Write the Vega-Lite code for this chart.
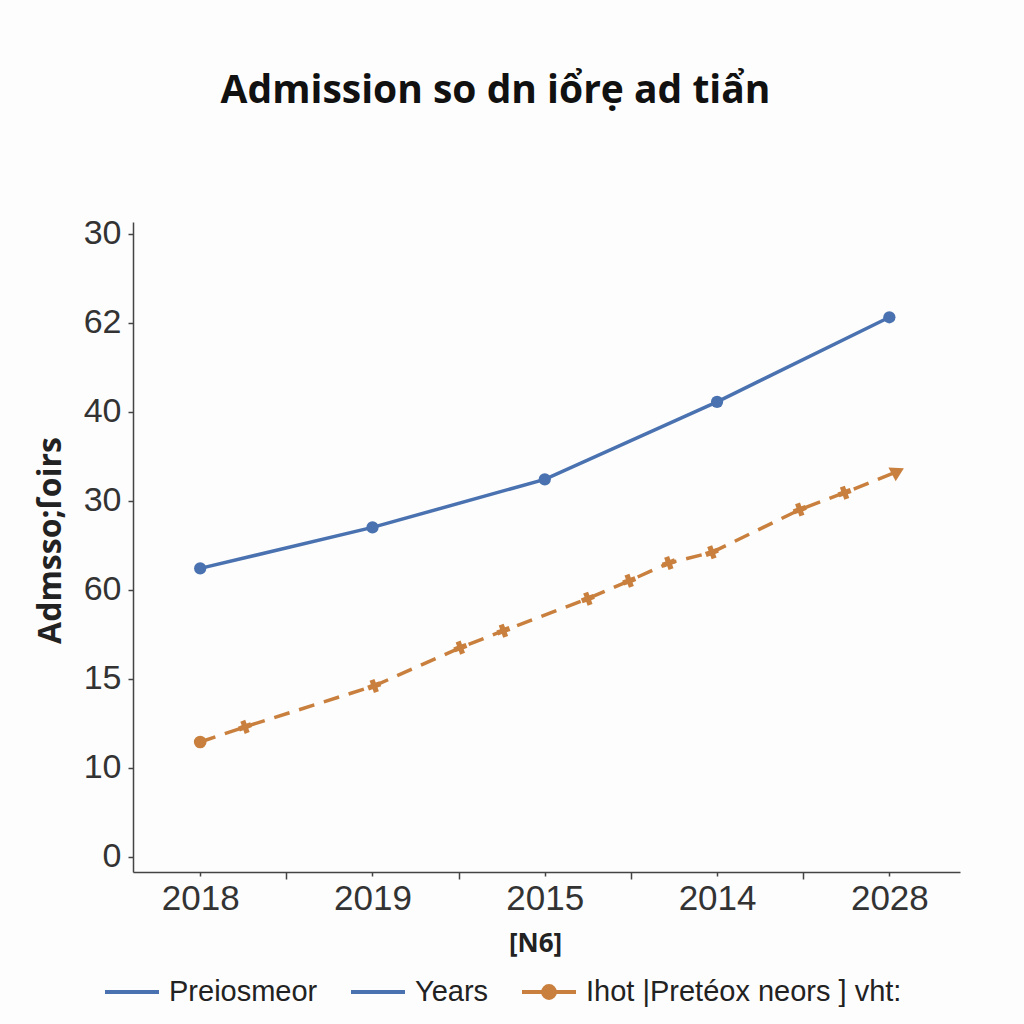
{
  "$schema": "https://vega.github.io/schema/vega-lite/v6.json",
  "width": 827,
  "height": 650,
  "autosize": {"type": "none"},
  "padding": {"left": 133, "top": 222, "right": 64, "bottom": 152},
  "background": "#fdfdfd",
  "title": {"text": "Admission so dn iổrẹ ad tiẩn", "fontSize": 39, "font": "Open Sans", "fontWeight": "bold", "color": "#111", "anchor": "middle", "dx": -51, "offset": 106},
  "config": {"view": {"stroke": null}},
  "datasets": {
    "blue": [
      {"i": 0, "v": 3.24},
      {"i": 1, "v": 3.70},
      {"i": 2, "v": 4.24},
      {"i": 3, "v": 5.11},
      {"i": 4, "v": 6.06}
    ],
    "orange": [
      {"i": 0, "v": 1.29, "kind": "start"},
      {"i": 0.26, "v": 1.46, "kind": "mid"},
      {"i": 1.01, "v": 1.92, "kind": "mid"},
      {"i": 1.51, "v": 2.35, "kind": "mid"},
      {"i": 1.76, "v": 2.54, "kind": "mid"},
      {"i": 2.25, "v": 2.90, "kind": "mid"},
      {"i": 2.49, "v": 3.10, "kind": "mid"},
      {"i": 2.72, "v": 3.30, "kind": "mid"},
      {"i": 2.97, "v": 3.42, "kind": "mid"},
      {"i": 3.48, "v": 3.90, "kind": "mid"},
      {"i": 3.74, "v": 4.09, "kind": "mid"},
      {"i": 4.05, "v": 4.33, "kind": "end"}
    ]
  },
  "layer": [
    {
      "data": {"name": "blue"},
      "mark": {"type": "line", "strokeWidth": 3.5},
      "encoding": {
        "x": {"field": "i", "type": "quantitative",
          "scale": {"domain": [-0.39, 4.41], "nice": false, "zero": false},
          "axis": {
            "values": [0, 0.5, 1, 1.5, 2, 2.5, 3, 3.5, 4],
            "labelExpr": "datum.value % 1 === 0 ? ['2018','2019','2015','2014','2028'][datum.value] : ''",
            "grid": false,
            "tickSize": {"condition": {"test": "datum.value % 1 === 0", "value": 4}, "value": 7},
            "labelFontSize": 35, "labelFont": "Liberation Sans", "labelColor": "#333",
            "labelPadding": 5, "labelFlush": false, "labelOverlap": false,
            "domainColor": "#444", "domainWidth": 1.5, "tickColor": "#444", "tickWidth": 1.5,
            "title": "[N6]", "titleFontSize": 26, "titleFontWeight": "bold", "titleFont": "Open Sans",
            "titleX": 402, "titleY": 58, "titleColor": "#222", "titleBaseline": "top"
          }
        },
        "y": {"field": "v", "type": "quantitative",
          "scale": {"domain": [-0.17, 7.13], "nice": false, "zero": false},
          "axis": {
            "values": [0, 1, 2, 3, 4, 5, 6, 7],
            "labelExpr": "['0','10','15','60','30','40','62','30'][datum.value]",
            "grid": false, "tickSize": 5, "labelPadding": 7,
            "labelFontSize": 34, "labelFont": "Liberation Sans", "labelColor": "#333",
            "domainColor": "#444", "domainWidth": 1.5, "tickColor": "#444", "tickWidth": 1.5,
            "title": "Admsso;ſoirs", "titleFontSize": 32, "titleFontWeight": "bold", "titleFont": "Open Sans",
            "titleColor": "#222", "titleX": -83, "titleY": 318, "titleAngle": -90,
            "titleBaseline": "middle", "titleAlign": "center"
          }
        },
        "color": {"datum": "Preiosmeor", "type": "nominal",
          "scale": {"domain": ["Preiosmeor", "Years", "Ihot |Pretéox neors ] vht:"], "range": ["#4a72b0", "#4a72b0", "#c9803e"]},
          "legend": {
            "orient": "none", "legendX": -30, "legendY": 741, "direction": "horizontal", "columns": 3,
            "title": null, "symbolType": "stroke", "symbolSize": 2916, "symbolStrokeWidth": 4,
            "labelFontSize": 29, "labelFont": "Liberation Sans", "labelColor": "#222", "labelLimit": 600,
            "columnPadding": 25, "labelOffset": 8,
            "encode": {"symbols": {"update": {
              "shape": {"signal": "datum.value === 'Ihot |Pretéox neors ] vht:' ? 'M-1,0H-0.22M0.22,0H1M0.22,0A0.22,0.22 0 1,1 -0.22,0A0.22,0.22 0 1,1 0.22,0' : 'stroke'"},
              "fill": {"signal": "datum.value === 'Ihot |Pretéox neors ] vht:' ? '#c9803e' : 'transparent'"}
            }}}
          }
        }
      }
    },
    {
      "data": {"name": "blue"},
      "mark": {"type": "point", "filled": true, "size": 150, "opacity": 1},
      "encoding": {
        "x": {"field": "i", "type": "quantitative"},
        "y": {"field": "v", "type": "quantitative"},
        "color": {"datum": "Preiosmeor", "type": "nominal"}
      }
    },
    {
      "data": {"name": "orange"},
      "mark": {"type": "line", "strokeWidth": 3.5, "strokeDash": [16, 10]},
      "encoding": {
        "x": {"field": "i", "type": "quantitative"},
        "y": {"field": "v", "type": "quantitative"},
        "color": {"datum": "Ihot |Pretéox neors ] vht:", "type": "nominal"}
      }
    },
    {
      "data": {"name": "orange"},
      "transform": [{"filter": "datum.kind === 'start'"}],
      "mark": {"type": "point", "filled": true, "size": 160, "opacity": 1, "shape": "circle"},
      "encoding": {
        "x": {"field": "i", "type": "quantitative"},
        "y": {"field": "v", "type": "quantitative"},
        "color": {"datum": "Ihot |Pretéox neors ] vht:", "type": "nominal"}
      }
    },
    {
      "data": {"name": "orange"},
      "transform": [{"filter": "datum.kind === 'mid'"}],
      "mark": {"type": "point", "filled": true, "size": 170, "opacity": 1, "shape": "cross", "angle": -20},
      "encoding": {
        "x": {"field": "i", "type": "quantitative"},
        "y": {"field": "v", "type": "quantitative"},
        "color": {"datum": "Ihot |Pretéox neors ] vht:", "type": "nominal"}
      }
    },
    {
      "data": {"name": "orange"},
      "transform": [{"filter": "datum.kind === 'end'"}],
      "mark": {"type": "point", "filled": true, "size": 240, "opacity": 1, "shape": "triangle-right", "angle": -28},
      "encoding": {
        "x": {"field": "i", "type": "quantitative"},
        "y": {"field": "v", "type": "quantitative"},
        "color": {"datum": "Ihot |Pretéox neors ] vht:", "type": "nominal"}
      }
    },
    {
      "mark": {"type": "point", "filled": true, "size": 60, "opacity": 1, "shape": "triangle-right", "color": "#333"},
      "encoding": {
        "x": {"datum": 4.41, "type": "quantitative"},
        "y": {"datum": -0.17, "type": "quantitative"}
      }
    }
  ]
}
